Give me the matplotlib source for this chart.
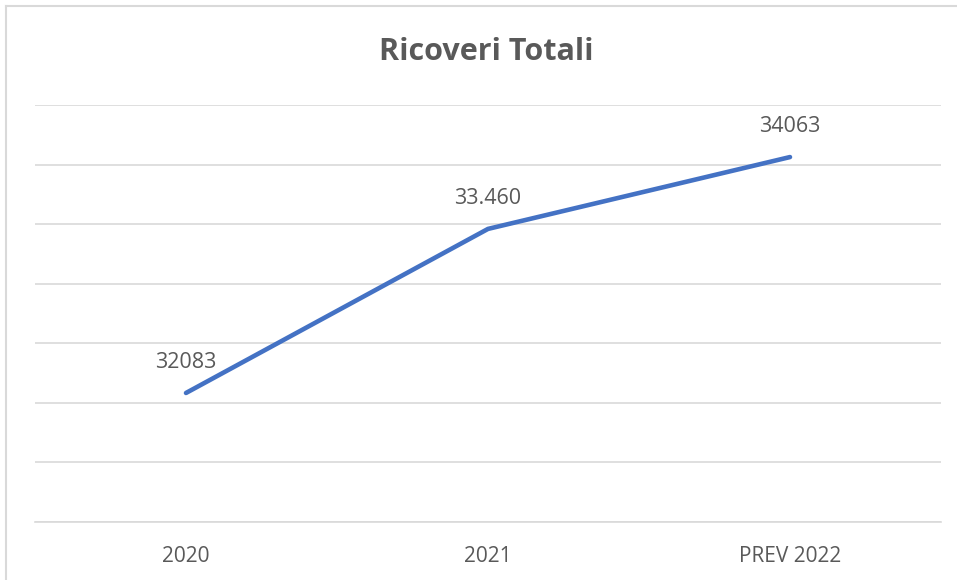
import matplotlib.pyplot as plt
from matplotlib.lines import Line2D
from matplotlib.ticker import MultipleLocator

# ricoveri totali per anno
anni = ["2020", "2021", "PREV 2022"]
ricoveri = [32083, 33460, 34063]
etichette = ["32083", "33.460", "34063"]

plt.rcParams["font.family"] = ["Open Sans", "DejaVu Sans"]

fig = plt.figure(figsize=(9.57, 5.8), dpi=100)
ax = fig.add_axes([35 / 957, 1 - 522 / 580, 906 / 957, 417 / 580])

x = list(range(len(anni)))
ax.plot(x, ricoveri, color="#4472C4", linewidth=3.3, solid_capstyle="round",
        solid_joinstyle="round", zorder=3)

for xi, yi, txt in zip(x, ricoveri, etichette):
    ax.annotate(txt, (xi, yi), xytext=(0, 22), textcoords="offset points",
                ha="center", va="center", fontsize=15.5, color="#595959")

ax.set_xlim(-0.5, len(anni) - 0.5)
ax.set_ylim(31000, 34500)
ax.yaxis.set_major_locator(MultipleLocator(500))
ax.grid(axis="y", color="#D9D9D9", linewidth=1.2)
ax.set_axisbelow(True)
ax.tick_params(axis="y", left=False, labelleft=False)
ax.set_xticks(x)
ax.set_xticklabels(anni, fontsize=15, color="#595959")
ax.tick_params(axis="x", length=0, pad=17)
for side in ["top", "right", "left"]:
    ax.spines[side].set_visible(False)
ax.spines["bottom"].set_color("#D9D9D9")
ax.spines["bottom"].set_linewidth(1.2)

fig.text(486 / 957, 1 - 52 / 580, "Ricoveri Totali", ha="center", va="center",
         fontsize=22, fontweight="bold", color="#595959")

# bordo dell'area del grafico
fig.add_artist(Line2D([6 / 957, 6 / 957], [0, 1 - 6 / 580], color="#D9D9D9", linewidth=1.5))
fig.add_artist(Line2D([6 / 957, 1], [1 - 6 / 580, 1 - 6 / 580], color="#D9D9D9", linewidth=1.5))

fig.savefig("out.png", dpi=100)
